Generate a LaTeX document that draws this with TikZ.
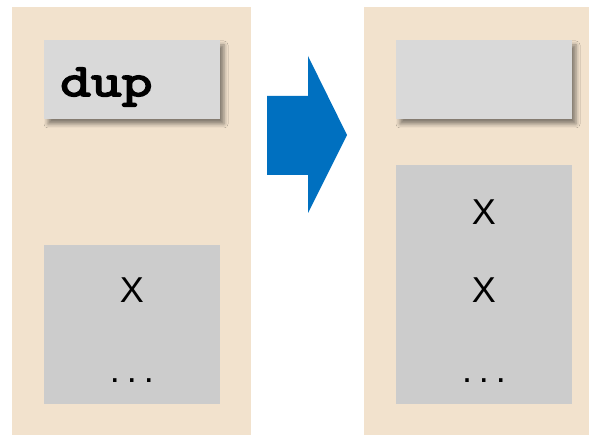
\documentclass[tikz,border=0pt]{standalone}
\usepackage{fontspec}
\setmainfont{Liberation Sans}
\newfontfamily\opfont{Latin Modern Mono}[FakeBold=4,FakeStretch=1.3]
\usetikzlibrary{shadows.blur}
\definecolor{panelbeige}{HTML}{F2E2CD}
\definecolor{opgray}{HTML}{D9D9D9}
\definecolor{cellgray}{HTML}{CCCCCC}
\definecolor{arrowblue}{HTML}{0070C0}
\begin{document}
\begin{tikzpicture}[x=1pt,y=-1pt,
    opbox/.style={fill=opgray,draw=none,minimum width=176pt,minimum height=79pt,
      blur shadow={shadow xshift=4pt,shadow yshift=-5pt,shadow blur radius=4pt,shadow opacity=45}},
    stackbox/.style={fill=cellgray,draw=none,minimum width=176pt},
    optext/.style={font=\opfont\fontsize{46}{46}\selectfont,inner sep=0pt},
    celltext/.style={font=\fontsize{36}{36}\selectfont,inner sep=0pt}]
  \useasboundingbox (0,0) rectangle (589,435);
  \fill[panelbeige] (12,7) rectangle (251,435);
  \fill[panelbeige] (364,7) rectangle (589,435);
  % before
  \node[opbox] (op0) at (132,79.5) {};
  \node[optext,anchor=base west] (dup) at (60,96) {dup};
  \node[stackbox,minimum height=159pt] (stack0) at (132,324.5) {};
  \node[celltext] (x0) at (132,290) {X};
  \node[celltext,anchor=base] (more0) at (132,383) {.\hspace{7pt}.\hspace{7pt}.};
  % step
  \fill[arrowblue] (267,96) -- (308,96) -- (308,56) -- (347,135)
    -- (308,213) -- (308,175) -- (267,175) -- cycle;
  % after
  \node[opbox] (op1) at (484,79.5) {};
  \node[stackbox,minimum height=239pt] (stack1) at (484,284.5) {};
  \node[celltext] (x1) at (484,212) {X};
  \node[celltext] (x2) at (484,290) {X};
  \node[celltext,anchor=base] (more1) at (484,383) {.\hspace{7pt}.\hspace{7pt}.};
\end{tikzpicture}
\end{document}
